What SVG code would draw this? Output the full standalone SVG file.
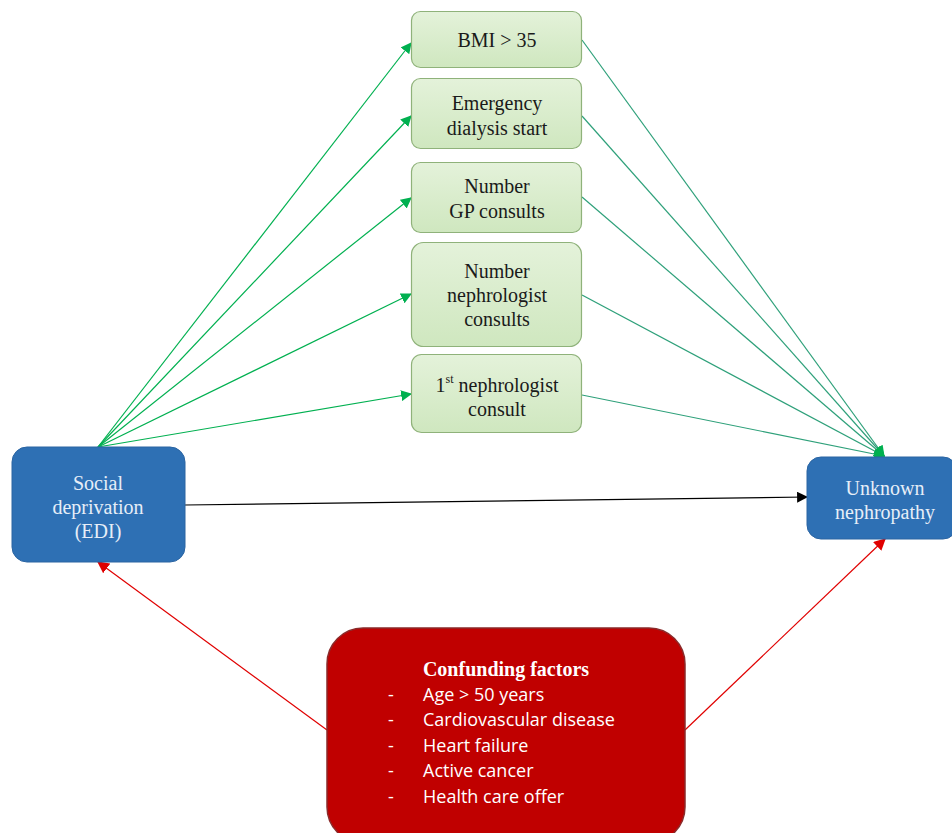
<svg xmlns="http://www.w3.org/2000/svg" width="952" height="833" viewBox="0 0 952 833">
<defs>
<linearGradient id="gg" x1="0" y1="0" x2="0" y2="1">
<stop offset="0" stop-color="#e4f2da"/>
<stop offset="1" stop-color="#cfe7bf"/>
</linearGradient>
<marker id="ag" viewBox="0 0 10 10" refX="9" refY="5" markerWidth="11" markerHeight="11" markerUnits="userSpaceOnUse" orient="auto">
<path d="M0,0 L10,5 L0,10 z" fill="#00b050"/>
</marker>
<marker id="ak" viewBox="0 0 10 10" refX="9" refY="5" markerWidth="11" markerHeight="11" markerUnits="userSpaceOnUse" orient="auto">
<path d="M0,0 L10,5 L0,10 z" fill="#000"/>
</marker>
<marker id="ar" viewBox="0 0 10 10" refX="9" refY="5" markerWidth="12" markerHeight="12" markerUnits="userSpaceOnUse" orient="auto">
<path d="M0,0 L10,5 L0,10 z" fill="#e00000"/>
</marker>
</defs>
<style>
.gb{fill:url(#gg);stroke:#8fb27a;stroke-width:1.2}
.bb{fill:#2e70b4;stroke:#2a64a2;stroke-width:1}
.gt{font-family:"Liberation Serif",serif;font-size:20px;fill:#1a1a1a;text-anchor:middle}
.wt{font-family:"Liberation Serif",serif;font-size:20px;fill:#e6eef8;text-anchor:middle}
.lt{font-family:"Open Sans","Liberation Sans",sans-serif;font-size:18px;fill:#fff}
.gl{stroke:#00b050;stroke-width:1.2;fill:none;marker-end:url(#ag)}
.tl{stroke:#2ea07a;stroke-width:1.2;fill:none;marker-end:url(#ag)}
.rl{stroke:#e00000;stroke-width:1.2;fill:none;marker-end:url(#ar)}
</style>
<rect width="952" height="833" fill="#fff"/>
<g id="connectors">
<line class="gl" x1="98" y1="447" x2="411" y2="43"/>
<line class="gl" x1="98" y1="447" x2="411" y2="116"/>
<line class="gl" x1="98" y1="447" x2="411" y2="198"/>
<line class="gl" x1="98" y1="447" x2="411" y2="294"/>
<line class="gl" x1="98" y1="447" x2="411" y2="394"/>
<line class="tl" x1="582" y1="40" x2="884" y2="456"/>
<line class="tl" x1="582" y1="116" x2="884" y2="456"/>
<line class="tl" x1="582" y1="197" x2="884" y2="456"/>
<line class="tl" x1="582" y1="295" x2="884" y2="456"/>
<line class="tl" x1="582" y1="395" x2="884" y2="456"/>
<line x1="185" y1="505" x2="807" y2="497" stroke="#000" stroke-width="1.2" marker-end="url(#ak)"/>
<line class="rl" x1="327" y1="730" x2="98" y2="562"/>
<line class="rl" x1="685" y1="730" x2="885" y2="539"/>
</g>
<g id="bmi">
<rect class="gb" x="411.5" y="11.5" width="170" height="56" rx="9"/>
<text class="gt" x="497" y="47">BMI &gt; 35</text>
</g>
<g id="emergency">
<rect class="gb" x="411.5" y="78.5" width="170" height="70" rx="9"/>
<text class="gt" x="497" y="110">Emergency</text>
<text class="gt" x="497" y="135">dialysis start</text>
</g>
<g id="gp">
<rect class="gb" x="411.5" y="162.5" width="170" height="70" rx="9"/>
<text class="gt" x="497" y="193">Number</text>
<text class="gt" x="497" y="218">GP consults</text>
</g>
<g id="nephro">
<rect class="gb" x="411.5" y="242.5" width="170" height="104" rx="12"/>
<text class="gt" x="497" y="278">Number</text>
<text class="gt" x="497" y="302">nephrologist</text>
<text class="gt" x="497" y="326">consults</text>
</g>
<g id="first">
<rect class="gb" x="411.5" y="354.5" width="170" height="78" rx="10"/>
<text class="gt" x="497" y="392">1<tspan font-size="12" dy="-9">st</tspan><tspan dy="9"> nephrologist</tspan></text>
<text class="gt" x="497" y="416">consult</text>
</g>
<g id="social">
<rect class="bb" x="12" y="447" width="173" height="115" rx="15"/>
<text class="wt" x="98" y="490">Social</text>
<text class="wt" x="98" y="514">deprivation</text>
<text class="wt" x="98" y="538">(EDI)</text>
</g>
<g id="unknown">
<rect class="bb" x="807" y="457" width="150" height="82" rx="14"/>
<text class="wt" x="885" y="495">Unknown</text>
<text class="wt" x="885" y="519">nephropathy</text>
</g>
<g id="confounding">
<rect x="327" y="628" width="358" height="215" rx="36" fill="#c00000" stroke="#8a2a2a" stroke-width="1.5"/>
<text x="506" y="676" font-family="Liberation Serif,serif" font-size="20" font-weight="bold" fill="#fff" text-anchor="middle">Confunding factors</text>
<text class="lt" x="388" y="701">-</text><text class="lt" x="423" y="701">Age &gt; 50 years</text>
<text class="lt" x="388" y="726">-</text><text class="lt" x="423" y="726">Cardiovascular disease</text>
<text class="lt" x="388" y="752">-</text><text class="lt" x="423" y="752">Heart failure</text>
<text class="lt" x="388" y="777">-</text><text class="lt" x="423" y="777">Active cancer</text>
<text class="lt" x="388" y="803">-</text><text class="lt" x="423" y="803">Health care offer</text>
</g>
</svg>
